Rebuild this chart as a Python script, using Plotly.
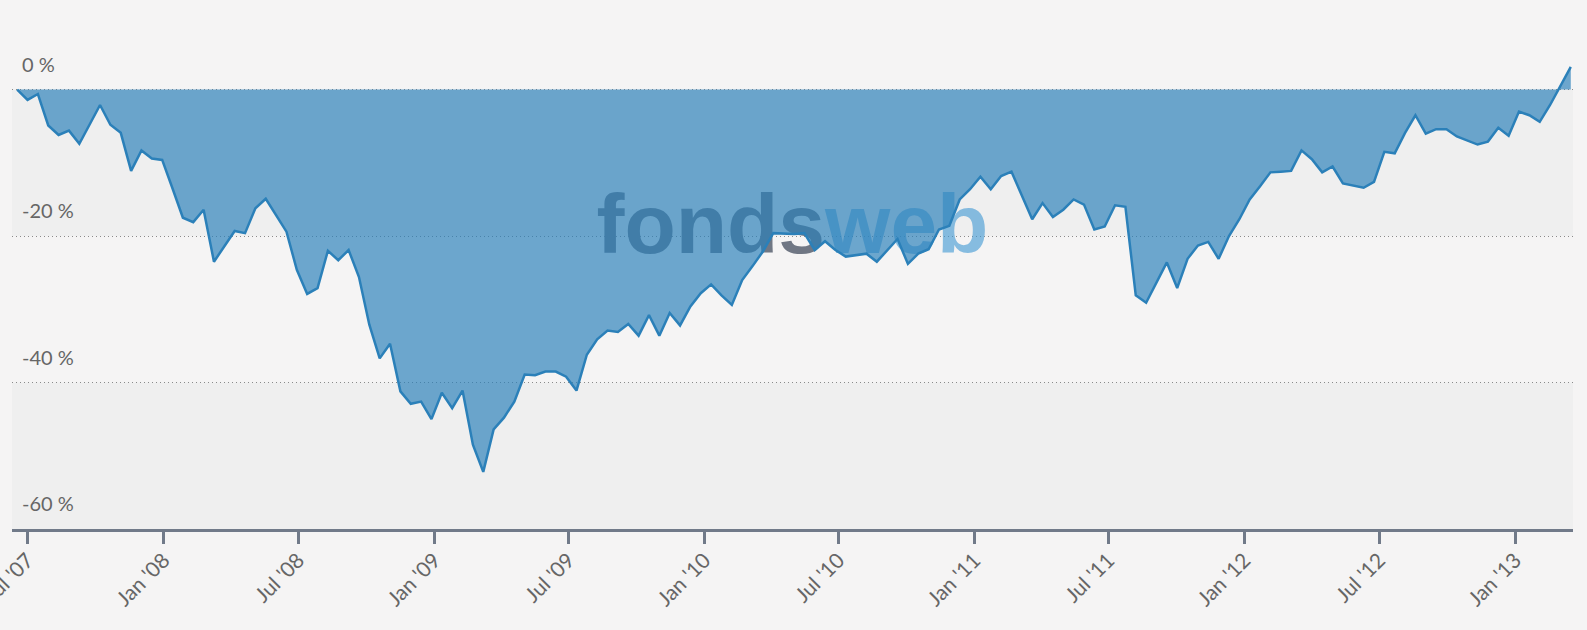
import pandas as pd
import plotly.graph_objects as go

# ---- data (biweekly drawdown in %) ----
start_date = "2007-06-17"
values = [
    0.0, -1.4, -0.6, -4.9, -6.2, -5.6, -7.4, -4.7, -2.1, -4.8,
    -5.9, -11.1, -8.3, -9.4, -9.6, -13.5, -17.5, -18.1, -16.4, -23.5,
    -21.4, -19.3, -19.6, -16.2, -14.9, -17.2, -19.4, -24.6, -27.9, -27.1,
    -22.0, -23.3, -21.9, -25.6, -32.1, -36.7, -34.7, -41.2, -42.9, -42.6,
    -45.0, -41.4, -43.5, -41.1, -48.5, -52.2, -46.4, -44.8, -42.6, -38.9,
    -39.0, -38.5, -38.5, -39.2, -41.1, -36.2, -34.1, -32.9, -33.1, -32.0,
    -33.6, -30.8, -33.6, -30.5, -32.2, -29.6, -27.8, -26.6, -28.1, -29.4,
    -26.0, -24.1, -22.1, -19.6, -19.7, -19.7, -19.6, -21.9, -20.7, -21.9,
    -22.8, -22.6, -22.4, -23.5, -21.9, -20.4, -23.8, -22.4, -21.8, -19.1,
    -18.6, -15.0, -13.6, -11.9, -13.6, -11.8, -11.2, -14.4, -17.7, -15.5,
    -17.4, -16.4, -15.0, -15.7, -19.1, -18.7, -15.8, -16.0, -28.1, -29.1,
    -26.3, -23.6, -27.1, -23.1, -21.3, -20.8, -23.1, -20.0, -17.7, -15.0,
    -13.2, -11.3, -11.2, -11.1, -8.3, -9.5, -11.3, -10.5, -12.8, -13.1,
    -13.4, -12.6, -8.5, -8.7, -5.9, -3.5, -6.0, -5.4, -5.4, -6.4,
    -7.0, -7.5, -7.1, -5.2, -6.3, -3.0, -3.5, -4.4, -2.1, 0.5,
    3.1,
]
dates = pd.date_range(start_date, periods=len(values), freq="14D")

x_range = ["2007-06-10", "2013-03-20"]
x_tick_vals = ["2007-07-01", "2008-01-01", "2008-07-01", "2009-01-01", "2009-07-01",
               "2010-01-01", "2010-07-01", "2011-01-01", "2011-07-01", "2012-01-01",
               "2012-07-01", "2013-01-01"]
x_tick_text = ["Jul '07", "Jan '08", "Jul '08", "Jan '09", "Jul '09", "Jan '10",
               "Jul '10", "Jan '11", "Jul '11", "Jan '12", "Jul '12", "Jan '13"]
y_tick_vals = [0, -20, -40, -60]
y_tick_text = ["0 %", "-20 %", "-40 %", "-60 %"]
y_range = [-60, 5]
bands = [(0, -20), (-40, -60)]

watermark_x = "2010-06-13"
watermark_y = -19.4

PAGE = "#f5f4f4"
BAND = "#efefef"
LINE = "#2b80b9"
FILL = "rgba(43,128,185,0.68)"
TXT = "#666666"
AXIS = "#717a89"
FONT = "Lato, 'Open Sans', sans-serif"

fig = go.Figure()

# watermark drawn beneath the area
fig.add_trace(go.Scatter(
    x=[watermark_x], y=[watermark_y], mode="text", text=["fonds"],
    textposition="middle left",
    textfont=dict(family="Liberation Sans, Arial, sans-serif", size=84,
                  color="#707784", weight="bold"),
    hoverinfo="skip", showlegend=False,
))
fig.add_trace(go.Scatter(
    x=[watermark_x], y=[watermark_y], mode="text", text=["web"],
    textposition="middle right",
    textfont=dict(family="Liberation Sans, Arial, sans-serif", size=84,
                  color="rgba(60,150,210,0.6)", weight="bold"),
    hoverinfo="skip", showlegend=False,
))

fig.add_trace(go.Scatter(
    x=dates, y=values, mode="lines", fill="tozeroy",
    line=dict(color=LINE, width=2.5), fillcolor=FILL,
    showlegend=False,
))

for top, bot in bands:
    fig.add_shape(type="rect", xref="paper", yref="y", x0=0, x1=1, y0=bot, y1=top,
                  fillcolor=BAND, line=dict(width=0), layer="below")

fig.update_layout(
    width=1587, height=630,
    paper_bgcolor=PAGE, plot_bgcolor=PAGE,
    margin=dict(l=12, r=14, t=53, b=101),
    font=dict(family=FONT, color=TXT),
    showlegend=False,
)
fig.update_xaxes(
    type="date", range=x_range, automargin=False,
    tickmode="array", tickvals=x_tick_vals, ticktext=x_tick_text,
    tickangle=-45, tickfont=dict(size=21, color=TXT, family=FONT),
    ticklabeloverflow="allow", ticklabelstandoff=-4,
    showgrid=False, zeroline=False,
    showline=True, linecolor=AXIS, linewidth=2.5,
    ticks="outside", ticklen=12, tickwidth=2.5, tickcolor=AXIS,
)
fig.update_yaxes(
    range=y_range, automargin=False,
    tickmode="array", tickvals=y_tick_vals, ticktext=y_tick_text,
    ticklabelposition="inside", ticklabelshift=-25, ticklabelstandoff=7,
    ticklabeloverflow="allow",
    tickfont=dict(size=20, color=TXT, family=FONT),
    showgrid=True, gridcolor="#8a8a8a", griddash="1px,3px", gridwidth=1,
    zeroline=False, showline=False, ticks="",
)

fig.write_html(
    "out.html",
    config={"displayModeBar": False},
    post_script="document.body.style.margin='0';document.body.style.background='#f5f4f4';",
)
